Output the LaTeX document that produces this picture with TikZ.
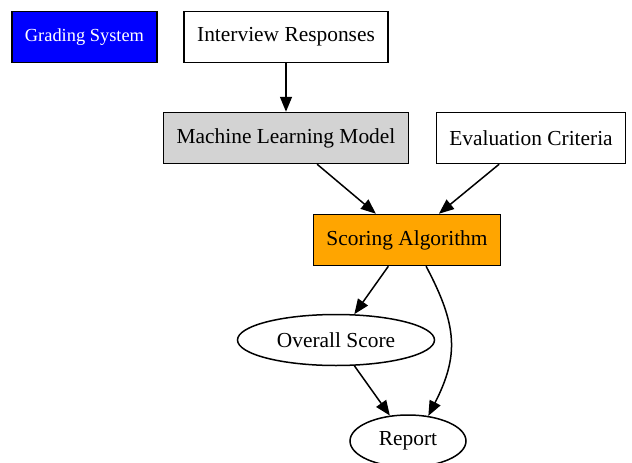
\documentclass[tikz,border=0pt]{standalone}
\usepackage{fontspec}
\setmainfont{Liberation Serif}
\usepackage{xcolor}
\usetikzlibrary{arrows.meta,shapes.geometric}
\definecolor{gsblue}{HTML}{0000FF}
\definecolor{algorange}{HTML}{FFA500}
\definecolor{modelgray}{HTML}{D3D3D3}

\begin{document}
\begin{tikzpicture}[x=1pt, y=-1pt,
    box/.style={draw=black, line width=1.5pt, rectangle, minimum height=51pt,
        inner xsep=13pt, font=\fontsize{21.4}{24}\selectfont},
    oval/.style={draw=black, line width=1.5pt, ellipse, inner sep=0pt,
        font=\fontsize{21.4}{24}\selectfont},
    edge/.style={line width=1.5pt, -{Triangle[length=15pt, width=12pt]}}]
\useasboundingbox (0,0) rectangle (632,463);
\node[box, fill=gsblue, text=white, font=\fontsize{18.4}{22}\selectfont] (grading) at (84.5,37) {Grading System};
\node[box, fill=white] (responses) at (286,37) {Interview Responses};
\node[box, fill=modelgray] (model) at (286,138) {Machine Learning Model};
\node[box, fill=white] (criteria) at (531,138) {Evaluation Criteria};
\node[box, fill=algorange] (scoring) at (407,240) {Scoring Algorithm};
\node[oval, minimum width=197pt, minimum height=51pt] (overall) at (336,340) {Overall Score};
\node[oval, minimum width=116pt, minimum height=52pt] (report) at (408,441) {Report};
\draw[edge] (responses) -- (model);
\draw[edge] (model) -- (scoring);
\draw[edge] (criteria) -- (scoring);
\draw[edge] (scoring) -- (overall);
\draw[edge] (overall) -- (report);
\draw[edge] (scoring.-54) to[out=-62, in=63, looseness=1.15] (report.51);
\end{tikzpicture}
\end{document}
